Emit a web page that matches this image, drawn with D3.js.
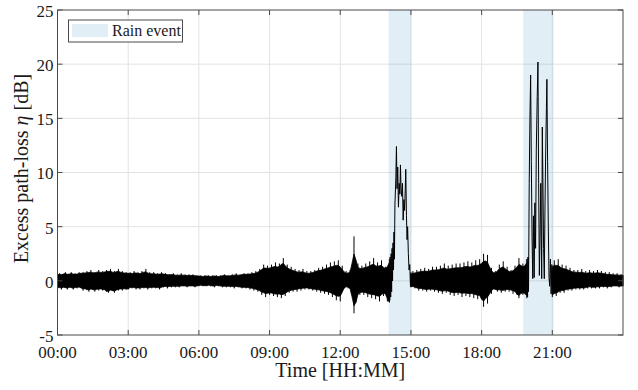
<!DOCTYPE html>
<html>
<head>
<meta charset="utf-8">
<script src="https://cdn.jsdelivr.net/npm/d3@7/dist/d3.min.js"></script>
<style>
  html, body { margin: 0; padding: 0; background: #fff; }
  svg { display: block; }
  svg text { font-family: "Liberation Serif", "Times New Roman", "DejaVu Serif", serif; fill: #1a1a1a; }
</style>
</head>
<body>
<svg id="chart" width="638" height="390" font-family="Liberation Serif, Times New Roman, serif"></svg>
<script>
// Excess path-loss over one day, sampled every 5 minutes as the max/min of
// the dry-weather fluctuation in each interval (null while it is raining).
const stepMinutes = 5;
const bandHi = [
  0.5,0.7,0.5,0.6,0.8,0.5,0.6,0.8,0.5,0.7,0.5,0.8,   // 00h
  0.6,0.8,0.6,0.9,0.6,1.0,0.6,0.8,0.7,1.0,0.6,0.9,   // 01h
  0.7,1.0,0.7,1.1,0.6,0.9,0.7,1.1,0.6,0.9,0.6,0.8,   // 02h
  0.6,0.8,0.5,0.9,0.6,0.8,0.5,0.9,0.6,1.1,0.5,0.8,   // 03h
  0.5,0.8,0.5,0.7,0.5,0.8,0.5,0.7,0.5,0.6,0.5,0.7,   // 04h
  0.4,0.6,0.4,0.7,0.4,0.6,0.4,0.6,0.4,0.6,0.4,0.5,   // 05h
  0.4,0.5,0.3,0.5,0.4,0.5,0.3,0.5,0.4,0.5,0.3,0.5,   // 06h
  0.4,0.6,0.4,0.5,0.4,0.6,0.4,0.7,0.4,0.6,0.5,0.7,   // 07h
  0.5,0.7,0.5,0.8,0.5,0.9,0.6,1.1,0.8,1.5,0.9,1.4,   // 08h
  0.9,1.5,1.0,1.7,0.9,1.6,1.2,2.1,1.0,1.5,0.8,1.3,   // 09h
  0.7,1.1,0.6,1.0,0.6,1.1,0.5,0.9,0.5,0.9,0.6,1.0,   // 10h
  0.7,1.2,0.7,1.3,0.8,1.5,0.8,1.7,0.9,1.8,1.0,1.9,   // 11h
  0.9,1.4,0.5,0.9,0.5,1.0,0.7,4.1,1.0,1.6,0.8,1.4,   // 12h
  0.9,1.6,0.9,1.8,1.0,2.1,0.9,1.7,1.0,1.9,0.9,1.3,   // 13h
  1.0,2.0,null,null,null,null,null,null,null,null,null,null, // 14h
  0.5,0.9,0.5,1.0,0.6,1.1,0.6,1.2,0.6,1.1,0.7,1.3,   // 15h
  0.7,1.3,0.7,1.4,0.8,1.6,0.7,1.4,0.8,1.5,0.8,1.6,   // 16h
  0.8,1.6,0.8,1.7,0.9,1.8,0.8,1.7,1.0,1.9,0.9,2.0,   // 17h
  1.0,2.5,1.2,2.4,0.8,1.2,0.5,0.9,0.6,1.5,0.8,1.8,   // 18h
  0.7,1.3,0.6,1.0,0.7,1.4,0.8,2.1,1.0,1.6,1.0,2.0,   // 19h
  null,null,null,null,null,null,null,null,null,null,null,null, // 20h
  1.0,1.9,0.9,2.0,0.8,1.5,0.8,1.4,0.7,1.2,0.6,1.0,   // 21h
  0.6,1.0,0.5,1.1,0.5,0.9,0.5,1.0,0.5,0.9,0.5,1.0,   // 22h
  0.5,0.9,0.5,0.8,0.4,0.8,0.4,0.7,0.4,0.7,0.4,0.6,   // 23h
  0.5                                                // 24h
];
const bandLo = [
  -0.7,-0.5,-0.8,-0.5,-0.6,-0.8,-0.5,-0.6,-0.8,-0.5,-0.7,-0.5,
  -0.6,-0.9,-0.6,-0.8,-1.0,-0.6,-0.8,-1.0,-0.6,-0.9,-0.6,-0.9,
  -0.7,-1.0,-1.1,-0.7,-0.9,-1.1,-0.7,-0.9,-0.6,-0.9,-0.6,-0.8,
  -0.8,-0.5,-0.7,-0.5,-0.8,-0.5,-0.8,-0.5,-0.7,-0.5,-0.8,-0.5,
  -0.7,-0.5,-0.7,-0.5,-0.8,-0.5,-0.6,-0.4,-0.7,-0.4,-0.6,-0.4,
  -0.6,-0.4,-0.6,-0.4,-0.5,-0.4,-0.6,-0.4,-0.5,-0.4,-0.6,-0.4,
  -0.5,-0.3,-0.5,-0.4,-0.5,-0.3,-0.5,-0.4,-0.6,-0.3,-0.5,-0.4,
  -0.6,-0.4,-0.6,-0.4,-0.6,-0.4,-0.7,-0.4,-0.6,-0.5,-0.7,-0.5,
  -0.7,-0.5,-0.8,-0.5,-0.9,-0.6,-1.0,-0.7,-1.3,-0.8,-1.5,-0.9,
  -1.3,-0.9,-1.4,-1.0,-1.5,-0.9,-1.6,-1.0,-1.4,-0.8,-1.1,-0.7,
  -1.0,-0.6,-1.0,-0.5,-0.9,-0.5,-0.8,-0.5,-0.8,-0.6,-0.9,-0.6,
  -1.0,-0.6,-1.1,-0.7,-1.2,-0.7,-1.3,-0.8,-1.5,-0.9,-1.8,-1.0,
  -1.9,-0.8,-0.7,-0.4,-0.7,-0.5,-1.2,-3.0,-2.0,-0.9,-1.3,-0.8,
  -1.3,-0.8,-1.5,-0.9,-1.6,-0.9,-1.7,-1.0,-1.9,-0.9,-1.4,-0.8,
  -1.9,-2.0,null,null,null,null,null,null,null,null,null,null,
  -0.6,-0.4,-0.7,-0.5,-0.9,-0.5,-0.9,-0.6,-1.0,-0.6,-0.9,-0.6,
  -1.0,-0.6,-1.1,-0.7,-1.2,-0.7,-1.1,-0.7,-1.3,-0.8,-1.4,-0.8,
  -1.3,-0.8,-1.5,-0.8,-1.4,-0.9,-1.5,-0.8,-1.6,-0.9,-1.7,-1.0,
  -1.7,-2.4,-1.0,-2.1,-0.8,-1.2,-0.5,-0.8,-1.0,-0.6,-1.1,-0.7,
  -1.0,-0.6,-1.0,-0.6,-1.2,-0.7,-1.3,-1.6,-0.9,-1.3,-0.9,-1.6,
  null,null,null,null,null,null,null,null,null,null,null,null,
  -1.5,-0.9,-1.4,-0.8,-1.1,-0.7,-1.1,-0.6,-0.9,-0.6,-0.9,-0.5,
  -0.8,-0.5,-0.8,-0.5,-0.8,-0.5,-0.7,-0.4,-0.7,-0.5,-0.7,-0.4,
  -0.7,-0.4,-0.6,-0.4,-0.7,-0.4,-0.6,-0.4,-0.5,-0.4,-0.6,-0.4,
  -0.5
];

// Signal traces during the two rain events (time in hours, loss in dB)
const rain1Time = [14.08,14.10,14.12,14.14,14.16,14.18,14.20,14.22,14.24,14.26,14.28,14.30,14.32,14.36,14.385,14.41,14.44,14.47,14.50,14.53,14.555,14.58,14.61,14.64,14.67,14.70,14.73,14.76,14.78,14.81,14.835,14.86,14.89,14.92,14.95,14.98,15.0];
const rain1Loss = [1.5,-1.8,2.2,-1.5,2.5,-1.0,3.0,0.0,3.5,1.0,4.5,2.0,7.0,9.5,12.4,8.5,10.5,6.8,9.0,8.0,10.7,8.5,7.8,9.0,5.6,7.5,6.5,8.5,10.3,6.0,3.8,5.0,2.5,1.0,1.5,-0.5,0.8];
const rain2Time = [19.93,19.95,19.97,19.99,20.02,20.05,20.08,20.11,20.14,20.17,20.20,20.23,20.26,20.29,20.32,20.36,20.39,20.42,20.45,20.48,20.51,20.55,20.575,20.60,20.63,20.66,20.69,20.72,20.75,20.77,20.80,20.83,20.86,20.89,20.92,20.95,20.98,21.0];
const rain2Loss = [2.0,-1.5,2.2,-1.0,9.0,15.0,19.0,11.0,4.0,0.2,6.0,0.3,7.2,3.0,12.0,17.0,20.2,9.0,0.5,4.0,9.0,0.2,14.2,9.5,3.0,0.2,7.0,12.0,16.0,18.6,11.0,5.0,0.3,-0.5,2.0,-1.2,1.5,-1.0];

// Rain event intervals (hours)
const rainStart = [14.05, 19.77];
const rainEnd   = [15.02, 21.05];

const xTicks = [0, 3, 6, 9, 12, 15, 18, 21];
const xTickLabels = ["00:00","03:00","06:00","09:00","12:00","15:00","18:00","21:00"];
const yTicks = [-5, 0, 5, 10, 15, 20, 25];

const FONT = "Liberation Serif, Times New Roman, serif";
const svg = d3.select("#chart");
const m = { left: 57.5, right: 623, top: 10, bottom: 335 };

const x = d3.scaleLinear().domain([0, 24]).range([m.left, m.right]);
const y = d3.scaleLinear().domain([-5, 25]).range([m.bottom, m.top]);

// grid
const grid = svg.append("g");
grid.selectAll("line.gx").data(xTicks.slice(1)).join("line")
  .attr("x1", d => x(d)).attr("x2", d => x(d))
  .attr("y1", m.top).attr("y2", m.bottom)
  .attr("stroke", "#e3e3e3").attr("stroke-width", 1);
grid.selectAll("line.gy").data(yTicks.slice(1, -1)).join("line")
  .attr("x1", m.left).attr("x2", m.right)
  .attr("y1", d => y(d)).attr("y2", d => y(d))
  .attr("stroke", "#e3e3e3").attr("stroke-width", 1);

// rain event shading
const rainFill = "rgb(105,170,210)";
svg.append("g").selectAll("rect").data(d3.range(rainStart.length)).join("rect")
  .attr("x", i => x(rainStart[i]))
  .attr("width", i => x(rainEnd[i]) - x(rainStart[i]))
  .attr("y", m.top).attr("height", m.bottom - m.top)
  .attr("fill", rainFill).attr("fill-opacity", 0.2);

// dry-weather fluctuation: dense core (neighbour mean) plus per-interval max/min strokes
const band = bandHi.map((h, i) => ({ t: i * stepMinutes / 60, hi: h, lo: bandLo[i] }));
const ok = d => d && d.hi !== null && d.lo !== null;
const core = band.map((d, i) => {
  if (!ok(d)) return { t: d.t, hi: null, lo: null };
  const nb = [band[i - 1], d, d, band[i + 1]].filter(ok);
  return { t: d.t, hi: d3.mean(nb, e => e.hi), lo: d3.mean(nb, e => e.lo) };
});
const area = d3.area()
  .defined(ok)
  .x(d => x(d.t)).y0(d => y(d.lo)).y1(d => y(d.hi));
svg.append("path").datum(core)
  .attr("d", area)
  .attr("fill", "#000").attr("stroke", "#000").attr("stroke-width", 0.8);
svg.append("g").selectAll("line").data(band.filter(ok)).join("line")
  .attr("x1", d => x(d.t)).attr("x2", d => x(d.t))
  .attr("y1", d => y(d.lo)).attr("y2", d => y(d.hi))
  .attr("stroke", "#000").attr("stroke-width", 1);

// rain traces
const line = d3.line().x(d => x(d[0])).y(d => y(d[1]));
[[rain1Time, rain1Loss], [rain2Time, rain2Loss]].forEach(([ts, vs]) => {
  svg.append("path").datum(ts.map((t, i) => [t, vs[i]]))
    .attr("d", line).attr("fill", "none")
    .attr("stroke", "#000").attr("stroke-width", 1.0)
    .attr("stroke-linejoin", "miter").attr("stroke-miterlimit", 20);
});

// axes box and ticks
const axisColor = "#4a4a4a";
svg.append("rect")
  .attr("x", m.left).attr("y", m.top)
  .attr("width", m.right - m.left).attr("height", m.bottom - m.top)
  .attr("fill", "none").attr("stroke", axisColor).attr("stroke-width", 1);

const tickLen = 5;
const ticks = svg.append("g").attr("stroke", axisColor).attr("stroke-width", 1);
xTicks.forEach(t => {
  ticks.append("line").attr("x1", x(t)).attr("x2", x(t)).attr("y1", m.bottom).attr("y2", m.bottom - tickLen);
  ticks.append("line").attr("x1", x(t)).attr("x2", x(t)).attr("y1", m.top).attr("y2", m.top + tickLen);
});
yTicks.forEach(v => {
  ticks.append("line").attr("x1", m.left).attr("x2", m.left + tickLen).attr("y1", y(v)).attr("y2", y(v));
  ticks.append("line").attr("x1", m.right).attr("x2", m.right - tickLen).attr("y1", y(v)).attr("y2", y(v));
});

// tick labels
svg.append("g").selectAll("text").data(xTicks).join("text")
  .attr("font-family", FONT)
  .attr("x", d => x(d)).attr("y", m.bottom + 23)
  .attr("text-anchor", "middle").attr("font-size", 17)
  .text((d, i) => xTickLabels[i]);
svg.append("g").selectAll("text").data(yTicks).join("text")
  .attr("font-family", FONT)
  .attr("x", m.left - 4).attr("y", d => y(d) + 1).attr("dy", "0.35em")
  .attr("text-anchor", "end").attr("font-size", 17)
  .text(d => d < 0 ? "-" + Math.abs(d) : String(d));

// axis titles
svg.append("text")
  .attr("font-family", FONT)
  .attr("x", (m.left + m.right) / 2).attr("y", 377)
  .attr("text-anchor", "middle").attr("font-size", 20)
  .text("Time [HH:MM]");
const yTitle = svg.append("text")
  .attr("font-family", FONT)
  .attr("transform", `translate(28,${(m.top + m.bottom) / 2 - 4}) rotate(-90)`)
  .attr("text-anchor", "middle").attr("font-size", 20);
yTitle.append("tspan").text("Excess path-loss ");
yTitle.append("tspan").attr("font-style", "italic").text("η");
yTitle.append("tspan").text(" [dB]");

// legend
const lg = svg.append("g");
lg.append("rect").attr("x", 68.5).attr("y", 20).attr("width", 114).attr("height", 22)
  .attr("fill", "#fff").attr("stroke", axisColor).attr("stroke-width", 1);
lg.append("rect").attr("x", 72).attr("y", 24).attr("width", 36).attr("height", 13)
  .attr("fill", rainFill).attr("fill-opacity", 0.2);
lg.append("text").attr("font-family", FONT)
  .attr("x", 112).attr("y", 36).attr("font-size", 16).text("Rain event");
</script>
</body>
</html>
